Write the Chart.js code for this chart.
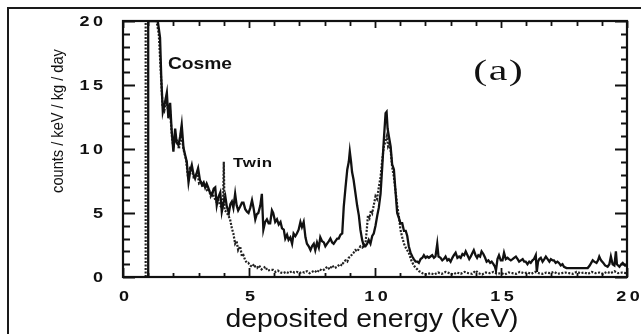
<!DOCTYPE html>
<html>
<head>
<meta charset="utf-8">
<script src="https://cdn.jsdelivr.net/npm/chart.js@4/dist/chart.umd.min.js"></script>
<style>
html,body{margin:0;padding:0;background:#fff;}
#wrap{position:relative;width:641px;height:334px;}
canvas{display:block;}
</style>
</head>
<body>
<div id="wrap"><canvas id="c" width="641" height="334"></canvas></div>
<script>
// ---- data (deposited energy in keV, rate in counts/keV/kg/day) ----
const cosmeE = [1.0,1.0,1.38,1.47,1.52,1.58,1.65,1.74,1.8,1.87,1.93,2.0,2.07,2.13,2.2,2.27,2.33,2.4,2.47,2.53,2.6,2.67,2.73,2.8,2.86,2.92,2.98,3.05,3.13,3.2,3.26,3.32,3.38,3.45,3.53,3.6,3.66,3.72,3.78,3.86,3.92,3.99,4.06,4.12,4.2,4.26,4.32,4.38,4.45,4.51,4.57,4.65,4.72,4.78,4.85,4.92,4.98,5.05,5.12,5.18,5.25,5.31,5.37,5.45,5.51,5.57,5.64,5.71,5.78,5.84,5.91,5.96,6.04,6.11,6.18,6.25,6.31,6.38,6.44,6.51,6.57,6.64,6.71,6.77,6.84,6.9,6.97,7.04,7.1,7.17,7.24,7.3,7.37,7.44,7.5,7.57,7.63,7.7,7.77,7.83,7.9,7.97,8.03,8.1,8.17,8.23,8.3,8.36,8.43,8.5,8.56,8.63,8.7,8.76,8.83,8.9,8.96,9.0,9.05,9.09,9.15,9.22,9.29,9.36,9.42,9.49,9.56,9.62,9.69,9.75,9.82,9.89,9.95,10.02,10.09,10.15,10.22,10.29,10.35,10.42,10.46,10.5,10.55,10.62,10.68,10.75,10.81,10.88,10.95,11.01,11.08,11.15,11.22,11.28,11.34,11.41,11.48,11.54,11.61,11.68,11.74,11.81,11.88,11.94,12.01,12.07,12.14,12.2,12.27,12.34,12.4,12.47,12.52,12.6,12.67,12.73,12.8,12.87,12.93,13.0,13.07,13.13,13.2,13.27,13.34,13.4,13.47,13.54,13.6,13.67,13.74,13.8,13.87,13.92,13.99,14.05,14.1,14.17,14.23,14.3,14.37,14.43,14.5,14.57,14.63,14.7,14.76,14.8,14.86,14.92,14.99,15.06,15.12,15.19,15.26,15.32,15.39,15.46,15.52,15.59,15.66,15.72,15.79,15.86,15.92,15.98,16.05,16.12,16.18,16.25,16.31,16.38,16.42,16.47,16.52,16.58,16.65,16.72,16.78,16.85,16.92,16.98,17.05,17.1,17.17,17.24,17.3,17.37,17.44,17.5,17.6,17.77,17.9,18.05,18.17,18.3,18.44,18.52,18.58,18.64,18.7,18.79,18.85,18.9,18.97,19.06,19.13,19.23,19.3,19.36,19.43,19.5,19.56,19.6,19.7,19.77,19.83,19.92,20.0];
const cosmeRate = [0,20,20,18.7,15.5,12.9,13.5,14.4,12.4,13.6,11.5,9.8,11.6,10.5,10.3,11.0,11.9,10.1,9.5,9.0,7.4,8.3,8.75,8.0,7.7,8.1,8.5,7.6,7.2,7.4,7.0,7.3,7.0,6.6,6.4,6.9,7.0,5.6,6.2,6.6,5.1,5.8,6.3,5.5,5.0,5.7,5.9,5.4,6.5,5.6,5.2,5.5,5.8,5.8,5.3,5.1,5.0,5.4,6.0,5.4,4.5,4.9,5.0,5.6,6.5,3.7,4.3,4.5,4.2,4.2,5.2,5.0,4.3,4.5,4.1,4.3,3.8,3.7,3.0,3.3,2.9,3.1,2.6,3.4,3.2,3.4,3.7,4.3,3.9,4.3,3.1,2.6,2.4,2.1,2.4,2.6,2.1,2.7,2.3,3.1,2.8,2.7,2.4,2.6,2.8,3.0,2.7,2.6,2.8,3.0,3.0,3.3,3.4,5.5,7.0,8.4,9.0,9.8,9.0,8.2,7.6,6.6,5.6,4.8,3.7,2.9,2.4,2.4,2.6,2.9,2.6,3.2,3.4,4.0,4.8,5.4,6.5,8.7,10.7,12.8,12.9,11.6,11.0,10.2,8.8,8.4,6.8,5.0,4.6,4.2,4.2,3.6,3.6,3.2,2.4,1.9,1.6,1.4,1.2,1.2,1.1,1.4,1.5,1.7,1.5,1.6,1.5,1.6,1.7,1.5,1.6,2.6,1.6,1.5,1.3,1.4,1.6,1.3,1.4,1.2,1.5,1.7,1.9,1.5,1.6,1.5,1.8,1.7,2.0,1.7,1.4,1.6,1.9,2.1,1.7,1.5,1.7,1.6,2.0,1.8,1.5,1.2,1.3,1.1,1.2,1.0,0.8,0.5,1.4,1.7,1.3,1.3,1.9,1.4,1.5,1.4,1.3,1.4,1.5,1.6,1.4,1.2,1.3,1.4,1.2,1.2,1.0,1.2,1.1,1.3,1.4,1.7,0.4,1.2,1.4,1.5,1.2,1.4,1.6,1.4,1.2,1.4,1.3,1.3,1.1,1.2,1.1,0.9,1.0,0.8,0.7,0.7,0.7,0.7,0.7,0.7,0.7,0.9,1.1,1.3,1.2,1.1,1.3,1.6,1.3,1.1,0.9,0.8,1.0,1.6,1.0,0.9,2.0,1.0,0.8,1.0,1.1,0.9,0.9];

const twinE = [0.9,0.9,1.33,1.42,1.5,1.57,1.64,1.72,1.8,1.87,1.94,2.0,2.07,2.15,2.22,2.3,2.36,2.42,2.5,2.58,2.66,2.73,2.8,2.87,2.95,3.02,3.1,3.18,3.25,3.33,3.4,3.48,3.55,3.62,3.7,3.77,3.85,3.92,3.97,4.0,4.03,4.1,4.18,4.25,4.32,4.38,4.45,4.51,4.57,4.65,4.72,4.78,4.85,4.92,4.97,5.05,5.12,5.2,5.25,5.32,5.4,5.5,5.57,5.65,5.73,5.84,5.96,6.05,6.15,6.25,6.36,6.47,6.58,6.7,6.8,6.9,7.0,7.1,7.2,7.3,7.4,7.5,7.6,7.7,7.8,7.9,8.0,8.1,8.2,8.3,8.4,8.5,8.6,8.7,8.76,8.83,8.9,8.96,9.03,9.1,9.15,9.22,9.3,9.36,9.42,9.5,9.56,9.62,9.67,9.72,9.78,9.84,9.89,9.95,10.02,10.08,10.15,10.22,10.28,10.35,10.42,10.47,10.52,10.57,10.62,10.68,10.75,10.81,10.88,10.95,11.01,11.08,11.15,11.24,11.34,11.44,11.54,11.62,11.68,11.75,11.81,11.88,11.95,12.05,12.2,12.35,12.5,12.65,12.8,12.95,13.1,13.25,13.4,13.55,13.7,13.85,14.0,14.1,14.25,14.4,14.55,14.7,14.85,15.0,15.15,15.3,15.45,15.6,15.75,15.9,16.05,16.2,16.35,16.5,16.65,16.8,16.95,17.1,17.25,17.4,17.55,17.7,17.85,18.0,18.15,18.3,18.45,18.6,18.75,18.9,19.05,19.2,19.35,19.5,19.65,19.8,20.0];
const twinRate = [0,20,20,19,16,13.3,13.0,13.8,12.8,12.9,11.0,10.1,11.0,10.6,10.0,11.2,10.5,9.8,9.2,7.8,8.5,8.4,7.8,7.9,8.2,7.3,7.4,7.0,7.2,6.8,6.9,6.3,6.6,6.2,5.9,6.1,5.6,5.4,5.8,9.0,5.2,5.1,4.8,4.5,3.8,3.4,2.6,2.8,2.1,2.4,1.6,1.7,1.3,1.1,1.1,0.9,0.8,1.0,0.8,0.7,0.9,0.6,0.7,0.8,0.5,0.55,0.55,0.4,0.5,0.35,0.3,0.4,0.3,0.45,0.35,0.4,0.3,0.4,0.35,0.45,0.3,0.4,0.5,0.35,0.6,0.5,0.6,0.8,0.6,0.9,0.7,0.8,1.0,0.9,1.2,1.3,1.2,1.5,1.6,1.8,1.9,2.1,2.0,2.2,2.4,2.3,2.5,2.6,3.6,4.8,4.6,5.2,5.0,5.6,6.3,6.1,7.0,7.8,9.0,10.2,10.6,11.0,10.2,10.4,9.9,8.6,7.8,6.8,5.6,4.7,3.7,3.1,2.6,2.2,1.9,1.3,0.9,0.7,0.6,0.45,0.4,0.3,0.25,0.2,0.3,0.2,0.35,0.25,0.4,0.3,0.2,0.35,0.25,0.4,0.3,0.25,0.5,0.3,0.2,0.35,0.3,0.4,0.25,0.3,0.2,0.35,0.3,0.25,0.4,0.3,0.35,0.25,0.4,0.3,0.25,0.35,0.3,0.4,0.25,0.3,0.35,0.3,0.25,0.4,0.3,0.35,0.25,0.4,0.3,0.35,0.25,0.4,0.3,0.45,0.3,0.35,0.3];

const xTickValues = [0, 5, 10, 15, 20];
const xTickLabels = ["0", "5", "10", "15", "20"];
const yTickValues = [0, 5, 10, 15, 20];
const yTickLabels = ["0", "5", "10", "15", "20"];
const seriesNames = ["Cosme", "Twin"];
const xTitle = "deposited energy (keV)";
const yTitle = "counts / keV / kg / day";
const panelLabel = "(a)";

const toPts = (xs, ys) => xs.map((x, i) => ({x: x, y: ys[i]}));

function drawText(ctx, text, x, y, font, align, sx, ls) {
  ctx.save();
  ctx.font = font;
  ctx.letterSpacing = (ls || 0) + 'px';
  ctx.textBaseline = 'middle';
  ctx.textAlign = 'left';
  const w = (ctx.measureText(text).width - (ls || 0)) * sx;
  let x0 = x;
  if (align === 'center') x0 = x - w / 2;
  else if (align === 'right') x0 = x - w;
  ctx.translate(x0, y);
  ctx.scale(sx, 1);
  ctx.fillText(text, 0, 0);
  ctx.restore();
}

const decor = {
  id: 'decor',
  beforeDraw(chart) {
    const ctx = chart.ctx;
    ctx.save();
    ctx.fillStyle = '#fff';
    ctx.fillRect(0, 0, chart.width, chart.height);
    ctx.strokeStyle = '#1a1a1a';
    ctx.lineWidth = 2;
    ctx.beginPath();
    ctx.moveTo(8, 334); ctx.lineTo(8, 8); ctx.lineTo(641, 8);
    ctx.stroke();
    ctx.restore();
  },
  afterDraw(chart) {
    const ctx = chart.ctx, ca = chart.chartArea;
    const xs = chart.scales.x, ys = chart.scales.y;
    ctx.save();
    ctx.strokeStyle = '#111';
    ctx.lineWidth = 2.2;
    ctx.strokeRect(ca.left, ca.top, ca.right - ca.left, ca.bottom - ca.top);
    ctx.lineWidth = 1.8;
    ctx.beginPath();
    for (let v = 0; v <= 20; v++) {
      const major = v % 5 === 0;
      const py = Math.round(ys.getPixelForValue(v)) + 0.5;
      const lenL = major ? 12 : 7, lenR = major ? 12 : 6;
      ctx.moveTo(ca.left, py); ctx.lineTo(ca.left + lenL, py);
      ctx.moveTo(ca.right, py); ctx.lineTo(ca.right - lenR, py);
      const px = Math.round(xs.getPixelForValue(v)) + 0.5;
      const lenB = major ? 9 : 4, lenT = major ? 7 : 5;
      ctx.moveTo(px, ca.bottom); ctx.lineTo(px, ca.bottom - lenB);
      ctx.moveTo(px, ca.top); ctx.lineTo(px, ca.top + lenT);
    }
    ctx.stroke();
    ctx.fillStyle = '#111';
    const tickFont = 'bold 15px "Liberation Sans", Arial, sans-serif';
    xTickValues.forEach((v, i) => {
      drawText(ctx, xTickLabels[i], xs.getPixelForValue(v) + 1, ca.bottom + 20, tickFont, 'center', 1.2, 3);
    });
    yTickValues.forEach((v, i) => {
      drawText(ctx, yTickLabels[i], ca.left - 20, ys.getPixelForValue(v) + 1, tickFont, 'right', 1.2, 3);
    });
    // axis titles
    drawText(ctx, xTitle, 372, 320, '26px "Liberation Sans", Arial, sans-serif', 'center', 1.09, 0);
    ctx.save();
    ctx.translate(58, 121);
    ctx.rotate(-Math.PI / 2);
    ctx.font = '17px "Liberation Sans", Arial, sans-serif';
    ctx.textAlign = 'center';
    ctx.textBaseline = 'middle';
    ctx.scale(0.86, 1.0);
    ctx.fillText(yTitle, 0, 0);
    ctx.restore();
    // series labels and panel label
    drawText(ctx, seriesNames[0], 168, 65, 'bold 16px "Liberation Sans", Arial, sans-serif', 'left', 1.2, 0);
    drawText(ctx, seriesNames[1], 233, 163, 'bold 13px "Liberation Sans", Arial, sans-serif', 'left', 1.3, 0.5);
    drawText(ctx, panelLabel, 498, 72, '29px "Liberation Serif", "Times New Roman", serif', 'center', 1.45, 1);
    ctx.restore();
  }
};

new Chart(document.getElementById('c'), {
  type: 'scatter',
  data: {
    datasets: [
      {
        label: seriesNames[0],
        data: toPts(cosmeE, cosmeRate),
        showLine: true,
        borderColor: '#111',
        borderWidth: 2.3,
        pointRadius: 0,
        tension: 0,
        order: 1
      },
      {
        label: seriesNames[1],
        data: toPts(twinE, twinRate),
        showLine: true,
        borderColor: '#222',
        borderWidth: 2.2,
        borderDash: [2, 1.5],
        pointRadius: 0,
        tension: 0,
        order: 2
      }
    ]
  },
  options: {
    responsive: false,
    animation: false,
    events: [],
    layout: { padding: { left: 123, top: 21, right: 14, bottom: 57 } },
    plugins: { legend: { display: false }, tooltip: { enabled: false } },
    scales: {
      x: {
        type: 'linear', min: 0, max: 20,
        grid: { display: false, drawTicks: false },
        border: { display: false },
        ticks: { display: false },
        afterFit: s => { s.height = 0; }
      },
      y: {
        type: 'linear', min: 0, max: 20,
        grid: { display: false, drawTicks: false },
        border: { display: false },
        ticks: { display: false },
        afterFit: s => { s.width = 0; }
      }
    }
  },
  plugins: [decor]
});
</script>
</body>
</html>
